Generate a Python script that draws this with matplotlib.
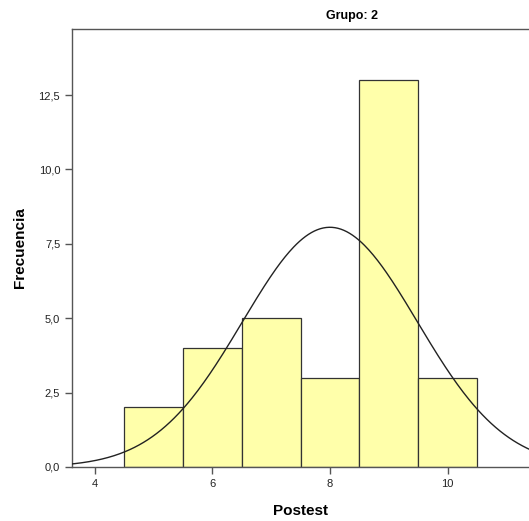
import numpy as np
import matplotlib.pyplot as plt
from matplotlib.ticker import FuncFormatter

# histogram of Postest, Grupo 2
centers = [5, 6, 7, 8, 9, 10]
counts = [2, 4, 5, 3, 13, 3]
xticks = [4, 6, 8, 10]
yticks = [0, 2.5, 5, 7.5, 10, 12.5]

W, H = 529, 521
fig = plt.figure(figsize=(W / 100, H / 100), dpi=100)
plt.rcParams['font.family'] = ['Liberation Sans', 'DejaVu Sans']

left, right, top, bottom = 72, 632, 29, 467
ax = fig.add_axes([left / W, 1 - bottom / H, (right - left) / W, (bottom - top) / H])

ax.bar(centers, counts, width=1.0, color='#ffffaa', edgecolor='#333333', linewidth=0.9, zorder=2)

# fitted normal curve
vals = np.repeat(centers, counts)
mu, sd, n = vals.mean(), vals.std(ddof=1), len(vals)
xs = np.linspace(3.5, 13.5, 400)
ys = n * 1.0 / (sd * np.sqrt(2 * np.pi)) * np.exp(-0.5 * ((xs - mu) / sd) ** 2)
ax.plot(xs, ys, color='#222222', lw=1.0, zorder=3)

ax.set_xlim(4 - 22.7 / 58.8, 4 + (632 - 94.7) / 58.8)
ax.set_ylim(0, 14.72)
ax.set_xticks(xticks)
ax.set_yticks(yticks)
ax.yaxis.set_major_formatter(FuncFormatter(lambda v, p: ('%.1f' % v).replace('.', ',')))
for s in ['top', 'left', 'bottom', 'right']:
    ax.spines[s].set_color('#555555')
    ax.spines[s].set_linewidth(1.0)
ax.tick_params(colors='#555555', labelcolor='#222222', labelsize=8, length=5, width=1)

fig.text(352 / W, 1 - 16 / H, 'Grupo: 2', ha='center', va='center', fontsize=9, fontweight='bold')
fig.text(301 / W, 1 - 511 / H, 'Postest', ha='center', va='center', fontsize=11, fontweight='bold')
fig.text(20 / W, 1 - 248 / H, 'Frecuencia', ha='center', va='center', rotation=90, fontsize=11, fontweight='bold')

fig.savefig('out.png', dpi=100)
